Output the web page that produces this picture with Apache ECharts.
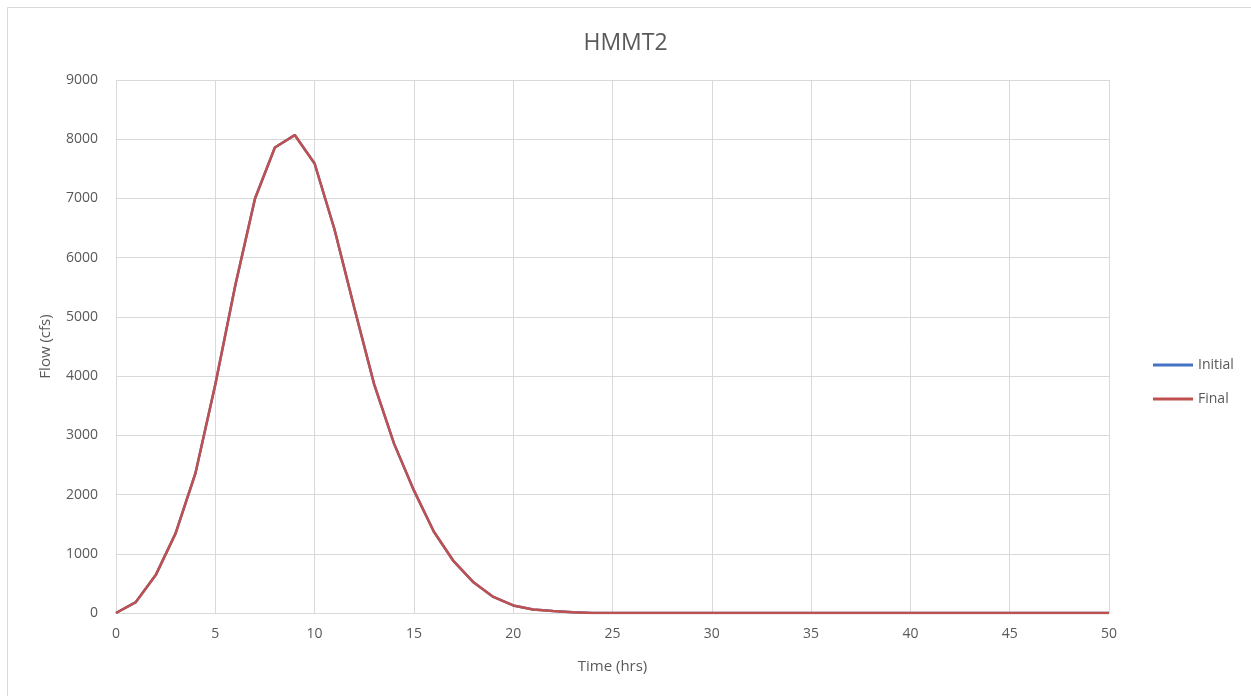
<!DOCTYPE html>
<html>
<head>
<meta charset="utf-8">
<script src="https://cdn.jsdelivr.net/npm/echarts@6/dist/echarts.min.js"></script>
<style>
  html, body { margin: 0; padding: 0; background: #fff; }
  #chartContainer { width: 1251px; height: 696px; }
</style>
</head>
<body>
<div id="chartContainer"></div>
<script>
// hours of the hydrograph
const hours = [0, 1, 2, 3, 4, 5, 6, 7, 8, 9, 10, 11, 12, 13, 14, 15, 16, 17, 18, 19, 20,
    21, 22, 23, 24, 25, 26, 27, 28, 29, 30, 31, 32, 33, 34, 35, 36, 37, 38, 39, 40,
    41, 42, 43, 44, 45, 46, 47, 48, 49, 50];

// flow (cfs) - Initial sits right under Final
const initialFlow = [0, 185, 640, 1345, 2360, 3860, 5520, 7000, 7860, 8070, 7590, 6480, 5150, 3860, 2860, 2070, 1375, 875, 518, 272, 128,
    60, 35, 12, 0, 0, 0, 0, 0, 0, 0, 0, 0, 0, 0, 0, 0, 0, 0, 0, 0,
    0, 0, 0, 0, 0, 0, 0, 0, 0, 0];
const finalFlow = [0, 185, 640, 1345, 2360, 3860, 5520, 7000, 7860, 8070, 7590, 6480, 5150, 3860, 2860, 2070, 1375, 875, 518, 272, 128,
    60, 35, 12, 0, 0, 0, 0, 0, 0, 0, 0, 0, 0, 0, 0, 0, 0, 0, 0, 0,
    0, 0, 0, 0, 0, 0, 0, 0, 0, 0];

const xTicks = [0, 5, 10, 15, 20, 25, 30, 35, 40, 45, 50];
const yTicks = [0, 1000, 2000, 3000, 4000, 5000, 6000, 7000, 8000, 9000];

const font = 'Open Sans, Noto Sans, sans-serif';
const labelColor = '#595959';
const gridColor = '#d9d9d9';

function toPairs(values) {
    return hours.map((h, i) => [h, values[i]]);
}

const myChart = echarts.init(document.getElementById('chartContainer'));

const option = {
    animation: false,
    backgroundColor: '#fff',
    title: {
        text: 'HMMT2',
        left: 'center',
        top: 27,
        textStyle: { fontFamily: font, fontSize: 23, fontWeight: 'normal', color: labelColor }
    },
    graphic: [{
        type: 'rect',
        shape: { x: 7.5, y: 7.5, width: 1300, height: 720 },
        style: { fill: 'none', stroke: '#d9d9d9', lineWidth: 1 },
        silent: true
    }],
    legend: {
        orient: 'vertical',
        left: 1148,
        top: 353,
        itemGap: 20,
        itemWidth: 40,
        itemHeight: 3,
        icon: 'rect',
        textStyle: { fontFamily: font, fontSize: 14, color: labelColor },
        data: ['Initial', 'Final']
    },
    grid: { left: 116, right: 142, top: 80, bottom: 83 },
    xAxis: {
        type: 'value',
        min: 0,
        max: 50,
        interval: 5,
        name: 'Time (hrs)',
        nameLocation: 'middle',
        nameGap: 46,
        nameTextStyle: { fontFamily: font, fontSize: 15, color: labelColor },
        axisLine: { show: true, lineStyle: { color: gridColor } },
        axisTick: { show: false },
        axisLabel: {
            fontFamily: font, fontSize: 14, color: labelColor, margin: 14,
            formatter: v => xTicks.includes(v) ? String(v) : ''
        },
        splitLine: { show: true, lineStyle: { color: gridColor } }
    },
    yAxis: {
        type: 'value',
        min: 0,
        max: 9000,
        interval: 1000,
        name: 'Flow (cfs)',
        nameLocation: 'middle',
        nameGap: 63,
        nameTextStyle: { fontFamily: font, fontSize: 15, color: labelColor },
        axisLine: { show: false },
        axisTick: { show: false },
        axisLabel: {
            fontFamily: font, fontSize: 14, color: labelColor, margin: 18,
            formatter: v => yTicks.includes(v) ? String(v) : ''
        },
        splitLine: { show: true, lineStyle: { color: gridColor } }
    },
    series: [
        {
            name: 'Initial',
            type: 'line',
            data: toPairs(initialFlow),
            showSymbol: false,
            symbol: 'none',
            color: '#4472C4',
            lineStyle: { width: 2.5, color: '#4472C4' }
        },
        {
            name: 'Final',
            type: 'line',
            data: toPairs(finalFlow),
            showSymbol: false,
            symbol: 'none',
            color: '#C0504D',
            lineStyle: { width: 2.5, color: '#C0504D' }
        }
    ]
};

myChart.setOption(option);
</script>
</body>
</html>
